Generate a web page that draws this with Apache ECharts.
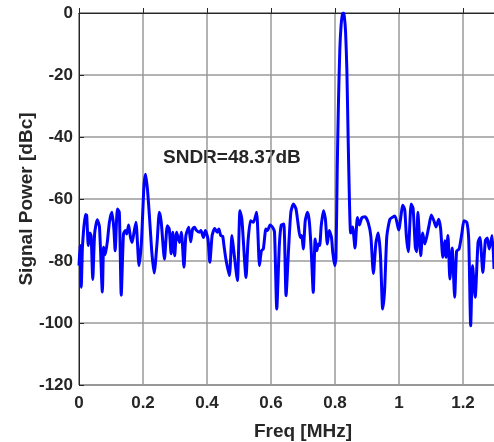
<!DOCTYPE html>
<html>
<head>
<meta charset="utf-8">
<script src="https://cdn.jsdelivr.net/npm/echarts@6/dist/echarts.min.js"></script>
<style>
html,body{margin:0;padding:0;background:#fff;}
#chart{width:494px;height:442px;}
</style>
</head>
<body>
<div id="chart"></div>
<script>
// Frequency (MHz) and signal power (dBc)
var freq = [
0.000,0.003,0.007,0.011,0.020,0.024,0.029,0.034,0.038,0.043,0.049,0.057,0.064,0.073,0.077,0.082,0.089,0.095,0.103,0.109,0.113,0.120,0.126,0.132,0.139,0.145,0.149,0.155,0.161,0.166,0.172,0.178,0.1875,0.195,0.203,0.208,
0.214,0.220,0.228,0.235,0.244,0.251,0.257,0.267,0.276,0.282,0.288,0.293,0.299,0.305,0.314,0.320,0.328,0.334,0.343,0.349,0.355,0.361,0.366,0.376,0.381,0.389,0.395,0.403,0.409,0.416,0.424,0.432,
0.437,0.443,0.449,0.453,0.459,0.470,0.478,0.484,0.495,0.503,0.509,0.522,0.528,0.536,0.545,0.555,0.564,0.570,0.576,0.584,0.589,0.597,0.605,0.611,0.618,0.626,0.632,0.640,0.647,
0.655,0.662,0.670,0.678,0.684,0.691,0.696,0.701,0.707,0.714,0.720,0.726,0.732,0.738,0.743,0.748,0.752,0.757,0.764,0.770,0.776,0.782,0.789,0.793,0.799,0.803,
0.807,0.811,0.815,0.819,0.823,0.826,0.829,0.833,0.837,0.841,0.845,0.849,
0.855,0.8625,0.870,0.876,0.884,0.894,0.904,0.912,0.920,0.928,0.935,0.942,0.949,0.955,0.962,0.972,0.9875,0.999,1.012,1.018,1.023,1.029,1.038,1.044,1.051,1.055,1.059,1.068,1.074,1.081,1.093,1.101,1.109,1.116,1.124,1.130,1.137,1.143,1.147,1.153,1.159,1.166,1.174,1.180,1.188,1.197,1.203,1.212,1.218,1.224,1.230,1.238,1.247,1.253,1.262,1.270,1.276,1.282,1.291,1.297
];
var power = [
-81.5,-75,-88.5,-75,-65,-65.3,-75,-71,-72,-86,-71,-66.7,-69,-90,-75.6,-78,-73.4,-67.5,-64.3,-69.7,-76.7,-63.2,-64.3,-91,-71.3,-70.2,-71.3,-68.4,-72.4,-74,-70.7,-67.5,-81.5,-74,-55.7,-52,
-57,-65.4,-77.7,-83.9,-74,-64.3,-67.5,-79.4,-68.6,-69.7,-77.7,-70.7,-78.3,-70.7,-74,-70.7,-82,-71.8,-69.1,-73.8,-69.7,-69.1,-70,-70.7,-70.2,-72.4,-70.2,-72.9,-80.4,-71.8,-69.5,-70.7,
-69.7,-71.8,-72,-75,-79.4,-84.7,-71.8,-77,-86.3,-63.8,-66.5,-85.3,-74,-67,-67.5,-64.3,-81.5,-76.7,-76.1,-69.7,-70.2,-68.4,-69.1,-70.7,-95.5,-75,-68.4,-68.1,-91.2,
-76,-64.3,-61.6,-63.2,-67.5,-72.4,-71.8,-76.1,-67,-64.3,-67.5,-77.2,-90.1,-72.9,-76.7,-74.5,-75,-68.6,-63.8,-66.5,-74.5,-70.2,-72.4,-77.2,-81.5,-79,
-50,-28,-12,-4,-0.5,0,-1,-6,-18,-40,-60,-71,
-69,-75.8,-66,-68.4,-66,-65.7,-67.7,-72,-84,-74,-71,-78,-95.5,-89.4,-72,-66.5,-65.5,-70,-62,-63.5,-72,-77,-61.6,-63,-75.6,-77,-64.3,-78.3,-71,-74.5,-69,-65.2,-67,-69,-66.5,-69.5,-78.8,-73.5,-78.8,-71.8,-85.8,-75.8,-91.7,-76.8,-76.1,-70.7,-67,-67.5,-73.4,-100.9,-81.5,-91.7,-74,-72.4,-83.7,-73.4,-72.6,-76.1,-71.8,-82.6
];
var xTicks = [0, 0.2, 0.4, 0.6, 0.8, 1, 1.2, 1.4];
var yTicks = [-120, -100, -80, -60, -40, -20, 0];
var annotation = 'SNDR=48.37dB';

var pts = freq.map(function (f, i) { return [f, power[i]]; });
var FONT = '"Liberation Sans", Arial, sans-serif';
var chart = echarts.init(document.getElementById('chart'), null, {renderer: 'canvas'});
chart.setOption({
  animation: false,
  backgroundColor: '#fff',
  grid: {left: 79, top: 13, width: 448, height: 372, containLabel: false, outerBoundsMode: 'none',
    show: true, borderColor: '#262626', borderWidth: 1, backgroundColor: 'transparent'},
  xAxis: {
    type: 'value', min: 0, max: 1.4, interval: 0.2,
    name: 'Freq [MHz]', nameLocation: 'middle', nameGap: 37, nameMoveOverlap: false,
    nameTextStyle: {fontFamily: FONT, fontWeight: 'bold', fontSize: 19, color: '#262626'},
    axisLine: {show: true, lineStyle: {color: '#262626', width: 1}},
    axisTick: {show: true, inside: true, length: 5, lineStyle: {color: '#262626'}},
    axisLabel: {fontFamily: FONT, fontWeight: 'bold', fontSize: 17, color: '#262626', margin: 10,
      formatter: function (v) { var s = xTicks.find(function (t) { return Math.abs(t - v) < 1e-6; }); return s === undefined ? '' : String(s); }},
    splitLine: {show: true, lineStyle: {color: '#9a9a9a', width: 1.5}}
  },
  yAxis: {
    type: 'value', min: -120, max: 0, interval: 20,
    name: 'Signal Power [dBc]', nameLocation: 'middle', nameGap: 43, nameMoveOverlap: false,
    nameTextStyle: {fontFamily: FONT, fontWeight: 'bold', fontSize: 19, color: '#262626'},
    axisLine: {show: true, lineStyle: {color: '#262626', width: 1}},
    axisTick: {show: true, inside: true, length: 5, lineStyle: {color: '#262626'}},
    axisLabel: {fontFamily: FONT, fontWeight: 'bold', fontSize: 17, color: '#262626', margin: 6,
      formatter: function (v) { var s = yTicks.find(function (t) { return Math.abs(t - v) < 1e-6; }); return s === undefined ? '' : String(s); }},
    splitLine: {show: true, lineStyle: {color: '#9a9a9a', width: 1.5}}
  },
  series: [{
    type: 'line', data: pts, showSymbol: false, smooth: 0.2,
    lineStyle: {color: '#0000ff', width: 3, join: 'round'},
    clip: true
  }],
  graphic: [{
    type: 'text', left: 163, top: 148,
    style: {text: annotation, fontFamily: FONT, fontWeight: 'bold', fontSize: 19, fill: '#262626'}
  }]
});
</script>
</body>
</html>
